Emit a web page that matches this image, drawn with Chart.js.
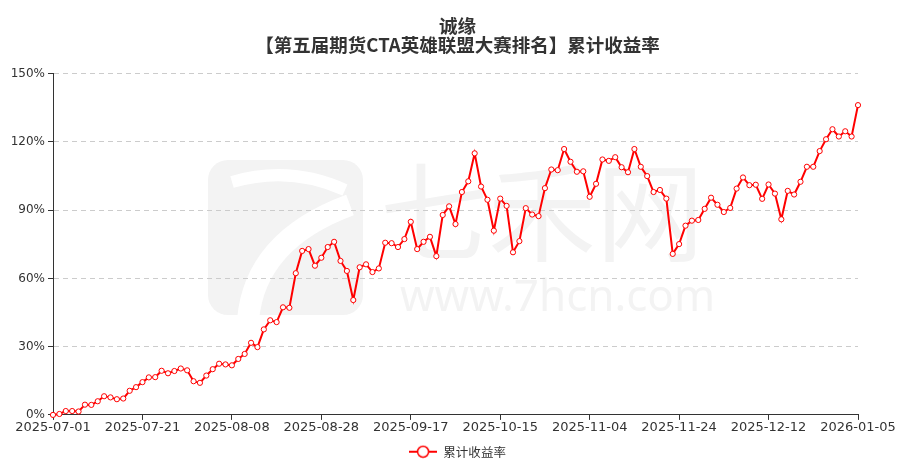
<!DOCTYPE html>
<html>
<head>
<meta charset="utf-8">
<script src="https://cdn.jsdelivr.net/npm/chart.js@4"></script>
<style>
  html, body { margin: 0; padding: 0; background: #fff; }
  #wrap { width: 915px; height: 472px; }
</style>
</head>
<body>
<div id="wrap"><canvas id="returnChart" width="915" height="472"></canvas></div>
<script>
const titleLines = ['诚缘', '【第五届期货CTA英雄联盟大赛排名】累计收益率'];
const seriesName = '累计收益率';

// x tick labels, one every 14 trading days
const tickLabels = [
  '2025-07-01', '2025-07-21', '2025-08-08', '2025-08-28', '2025-09-17',
  '2025-10-15', '2025-11-04', '2025-11-24', '2025-12-12', '2026-01-05'
];
const labelStep = 14;

// cumulative return (%) per trading day
const returns = [
  0, 0.4, 1.7, 1.7, 1.5, 4.5, 4.4, 6.0, 8.2, 7.7,
  6.9, 7.2, 10.6, 12.2, 14.4, 16.5, 16.6, 19.4, 18.3, 19.3,
  20.4, 19.6, 14.8, 14.1, 17.3, 20.1, 22.5, 22.2, 21.8, 24.6,
  26.8, 31.7, 29.8, 37.6, 41.6, 40.8, 47.3, 47.1, 62.3, 72.1,
  72.9, 65.6, 69.1, 73.8, 76.1, 67.7, 63.3, 50.5, 64.9, 66.2,
  62.8, 64.4, 75.7, 75.5, 73.8, 77.3, 84.9, 72.9, 76.1, 78.3,
  69.8, 87.9, 91.7, 83.9, 98.0, 102.7, 115.0, 100.4, 94.6, 81.0,
  95.1, 91.9, 71.5, 76.4, 90.9, 88.1, 87.4, 99.7, 107.9, 107.6,
  116.9, 111.3, 106.9, 107.1, 95.9, 101.6, 112.3, 111.7, 113.3, 108.9,
  106.7, 116.9, 109.1, 105.0, 98.0, 98.9, 95.1, 70.8, 75.1, 83.2,
  85.4, 85.7, 90.6, 95.5, 92.4, 89.2, 91.0, 99.5, 104.4, 101.0,
  101.2, 95.0, 101.3, 97.3, 86.0, 98.5, 96.9, 102.5, 109.1, 109.1,
  116.0, 121.2, 125.6, 122.4, 124.7, 122.4, 136.2
];

const yMax = 150;
const yStep = 30;

const RED = '#ff0000';

// legend icon: short line with an open circle
const legendIcon = document.createElement('canvas');
legendIcon.width = 28;
legendIcon.height = 14;
(function () {
  const c = legendIcon.getContext('2d');
  c.strokeStyle = RED;
  c.lineWidth = 2;
  c.beginPath();
  c.moveTo(0, 7);
  c.lineTo(28, 7);
  c.stroke();
  c.fillStyle = '#fff';
  c.lineWidth = 1.5;
  c.beginPath();
  c.arc(14, 7, 5.5, 0, Math.PI * 2);
  c.fill();
  c.stroke();
})();

// faint site watermark behind the plot
const watermark = {
  id: 'watermark',
  beforeDraw(chart) {
    const ctx = chart.ctx;
    ctx.save();
    ctx.fillStyle = '#f3f3f3';
    ctx.beginPath();
    ctx.roundRect(208, 160, 155, 155, 20);
    ctx.fill();
    ctx.strokeStyle = '#fff';
    ctx.lineWidth = 12;
    ctx.beginPath();
    ctx.moveTo(232, 182);
    ctx.quadraticCurveTo(290, 165, 345, 190);
    ctx.stroke();
    ctx.lineWidth = 22;
    ctx.beginPath();
    ctx.moveTo(350, 205);
    ctx.quadraticCurveTo(255, 240, 248, 320);
    ctx.stroke();

    ctx.fillStyle = '#f3f3f3';
    ctx.textBaseline = 'middle';
    ctx.textAlign = 'left';
    ctx.font = '108px "Noto Sans CJK SC"';
    ctx.fillText('七禾网', 380, 212);
    ctx.font = '44px "Noto Sans"';
    ctx.fillText('www.7hcn.com', 400, 298);
    ctx.restore();
  }
};

const points = returns.map((v, i) => ({ x: i, y: v }));

new Chart(document.getElementById('returnChart'), {
  type: 'line',
  data: {
    datasets: [{
      label: seriesName,
      data: points,
      borderColor: RED,
      borderWidth: 2,
      pointRadius: 2.6,
      pointBorderWidth: 1,
      pointBackgroundColor: '#fff',
      pointBorderColor: RED,
      tension: 0,
      clip: false
    }]
  },
  options: {
    responsive: false,
    animation: false,
    layout: { padding: { left: 0, right: 0, top: 9, bottom: 4 } },
    plugins: {
      title: {
        display: true,
        text: titleLines,
        color: '#333',
        font: { family: '"Noto Sans CJK SC"', size: 18.5, weight: 'bold', lineHeight: 1.02 },
        padding: { top: 8, bottom: 19 }
      },
      legend: {
        position: 'bottom',
        labels: {
          usePointStyle: true,
          pointStyleWidth: 28,
          boxHeight: 14,
          color: '#333',
          font: { family: '"Noto Sans CJK SC"', size: 12.5 },
          generateLabels: () => [{
            text: seriesName,
            pointStyle: legendIcon,
            fillStyle: RED,
            strokeStyle: RED,
            fontColor: '#333',
            hidden: false,
            datasetIndex: 0
          }]
        }
      },
      tooltip: { enabled: false }
    },
    scales: {
      x: {
        type: 'linear',
        min: 0,
        max: returns.length - 1,
        border: { color: '#333', width: 1 },
        grid: { drawOnChartArea: false, tickLength: 5, tickColor: '#333' },
        ticks: {
          stepSize: labelStep,
          autoSkip: false,
          maxRotation: 0,
          color: '#333',
          padding: 0,
          font: { family: '"DejaVu Sans"', size: 13 },
          callback: v => tickLabels[v / labelStep] || ''
        }
      },
      y: {
        min: 0,
        max: yMax,
        afterFit: scale => { scale.width = 53; },
        border: { color: '#333', width: 1, dash: [5, 4] },
        grid: { color: '#cccccc', tickLength: 5, tickColor: '#333' },
        ticks: {
          stepSize: yStep,
          color: '#333',
          padding: 3,
          font: { family: '"DejaVu Sans"', size: 12 },
          callback: v => v + '%'
        }
      },
      // empty right axis, only reserves the right margin so the legend stays centred
      yRight: {
        position: 'right',
        afterFit: scale => { scale.width = 57; },
        border: { display: false },
        grid: { display: false },
        ticks: { display: false }
      }
    }
  },
  plugins: [watermark]
});
</script>
</body>
</html>
